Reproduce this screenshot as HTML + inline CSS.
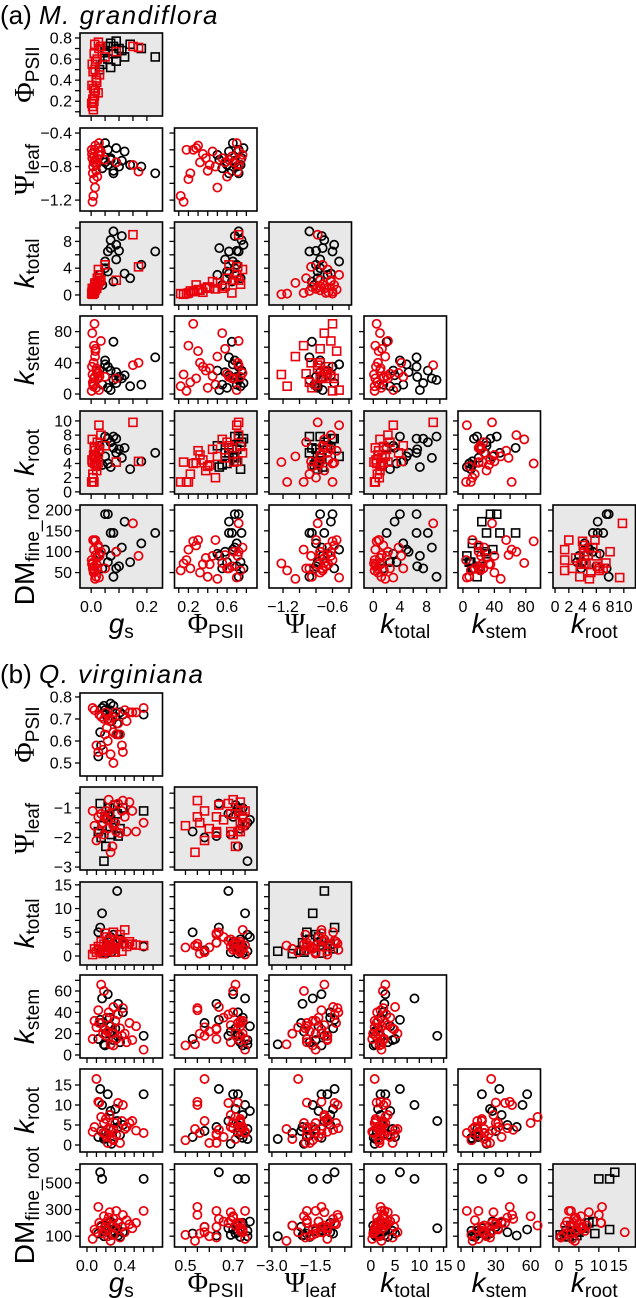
<!DOCTYPE html>
<html><head><meta charset="utf-8"><style>
html,body{margin:0;padding:0;background:#fff;}
svg{display:block;font-family:"Liberation Sans",sans-serif;}
</style></head><body>
<svg id="chart" width="636" height="1298" viewBox="0 0 636 1298" xmlns="http://www.w3.org/2000/svg"></svg>
<script>
// ---------- Data: (a) M. grandiflora ----------
const aBlackGs   = [0.05,0.06,0.07,0.08,0.09,0.10,0.12,0.04,0.06,0.07,0.08,0.14,0.18,0.23,0.05,0.09,0.03,0.11];
const aBlackPhi  = [0.68,0.72,0.75,0.65,0.58,0.70,0.62,0.55,0.60,0.52,0.72,0.74,0.70,0.62,0.66,0.77,0.50,0.68];
const aBlackPsi  = [-0.75,-0.60,-0.70,-0.85,-0.75,-0.80,-0.62,-0.82,-0.78,-0.72,-0.88,-0.78,-0.80,-0.88,-0.52,-0.58,-0.66,-0.73];
const aBlackKtot = [4.0,6.5,8.2,2.0,5.3,6.6,3.2,1.5,3.5,7.0,9.5,2.5,4.5,6.5,5.0,7.5,3.0,8.8];
const aBlackKstem= [43,35,30,67,28,22,24,12,8,5,18,10,12,47,38,14,30,20];
const aBlackKroot= [7.8,7.5,7.0,6.2,5.5,6.0,6.2,3.8,4.0,3.5,7.8,3.2,4.3,5.5,5.0,7.5,6.5,4.8];
const aBlackDm   = [190,190,145,145,100,65,172,60,75,90,40,75,120,145,105,60,95,110];

const aRedGs   = [0.005,0.008,0.010,0.012,0.015,0.003,0.020,0.006,0.018,0.025,0.009,0.030,0.014,0.004,0.022,0.011,0.028,0.016,0.035,0.007,0.013,0.05,0.09,0.15,0.17,0.002,0.019,0.026];
const aRedPhi  = [0.15,0.12,0.20,0.25,0.30,0.35,0.38,0.22,0.40,0.28,0.32,0.45,0.50,0.55,0.60,0.65,0.70,0.58,0.72,0.48,0.74,0.62,0.67,0.72,0.71,0.18,0.42,0.76];
const aRedPsi  = [-1.22,-1.15,-0.95,-0.60,-0.55,-0.65,-0.70,-0.88,-0.85,-0.58,-0.75,-0.62,-1.05,-0.70,-0.92,-0.68,-0.52,-0.75,-0.62,-0.80,-0.72,-0.72,-0.75,-0.78,-0.86,-0.60,-0.78,-0.66];
const aRedKtot = [0.1,0.2,0.3,0.5,0.8,0.4,1.0,0.6,1.2,1.5,0.7,2.0,1.8,1.0,2.5,0.3,3.0,1.3,2.2,0.9,1.6,4.5,2.2,9.0,4.2,0.2,1.1,3.8];
const aRedKstem= [25,10,62,90,55,35,30,15,8,20,40,23,48,78,26,20,5,58,68,12,22,22,20,37,40,4,33,27];
const aRedKroot= [4.2,1.4,1.4,4.0,5.8,4.5,3.0,2.5,3.6,4.1,5.2,6.0,5.0,7.4,7.0,6.2,9.4,4.8,8.0,2.0,6.4,6.5,4.2,9.8,4.3,1.4,3.8,5.5];
const aRedDm   = [72,55,105,125,128,70,85,60,40,115,50,90,35,73,60,65,38,92,100,128,55,60,100,168,90,80,70,110];

// ---------- Data: (b) Q. virginiana ----------
const bBlackGs   = [0.12,0.14,0.16,0.18,0.20,0.22,0.24,0.26,0.28,0.30,0.32,0.35,0.38,0.60,0.15,0.19,0.25,0.33];
const bBlackPhi  = [0.53,0.64,0.75,0.76,0.72,0.70,0.74,0.69,0.76,0.71,0.68,0.73,0.72,0.72,0.58,0.74,0.77,0.63];
const bBlackPsi  = [-1.8,-0.85,-1.6,-2.8,-2.3,-1.3,-1.0,-1.9,-1.5,-0.9,-1.2,-1.7,-1.0,-1.1,-2.0,-1.3,-1.4,-1.95];
const bBlackKtot = [5.0,6.0,9.0,1.0,0.5,3.0,2.0,0.8,4.5,1.5,13.7,3.5,2.5,2.0,1.2,0.6,4.0,2.8];
const bBlackKstem= [15,33,53,10,20,57,35,22,14,25,18,12,40,18,30,9,27,48];
const bBlackKroot= [2.0,14.0,10.0,1.5,3.0,12.7,7.5,0.3,4.0,9.0,6.0,2.5,5.0,12.7,3.5,1.8,8.5,4.5];
const bBlackDm   = [120,580,530,100,180,150,200,110,140,120,160,95,130,530,170,140,210,105];

const bRedGs   = [0.06,0.08,0.10,0.12,0.13,0.15,0.17,0.18,0.20,0.21,0.22,0.24,0.25,0.27,0.28,0.30,0.31,0.33,0.35,0.37,0.38,0.40,0.42,0.45,0.48,0.52,0.60,0.28,0.19,0.23];
const bRedPhi  = [0.75,0.74,0.58,0.55,0.72,0.71,0.56,0.70,0.73,0.66,0.60,0.69,0.54,0.71,0.64,0.73,0.63,0.68,0.63,0.58,0.55,0.74,0.69,0.73,0.73,0.73,0.75,0.50,0.63,0.70];
const bRedPsi  = [-1.1,-1.6,-2.1,-1.3,-1.8,-1.2,-1.5,-1.9,-1.1,-1.4,-1.7,-1.2,-2.5,-2.3,-0.9,-1.5,-1.8,-0.85,-1.85,-1.1,-0.75,-1.3,-1.8,-0.8,-1.1,-1.8,-1.5,-1.6,-1.3,-0.72];
const bRedKtot = [0.3,1.5,0.8,2.0,1.2,3.0,0.5,2.5,1.0,4.0,1.8,3.5,2.2,1.5,5.0,0.8,2.8,3.2,4.5,1.0,2.6,5.5,2.0,3.0,2.5,2.3,2.2,1.8,4.8,1.3];
const bRedKstem= [15,32,26,42,30,66,20,60,18,35,22,28,10,20,45,32,15,38,25,18,44,20,12,30,14,27,5,9,24,40];
const bRedKroot= [3.3,4.5,16.5,10.8,10.6,7.0,3.0,5.5,6.5,2.0,0.5,7.5,4.0,1.5,3.8,5.5,2.5,10.5,0.5,6.0,10.0,4.0,4.5,5.5,6.0,3.6,3.0,1.2,2.8,4.2];
const bRedDm   = [80,150,130,320,200,180,120,250,140,210,100,280,65,180,230,160,290,200,90,170,260,130,220,190,160,200,290,110,170,240];

// ---------- Axis config ----------
const varNames = ['gs','phi','psi','ktot','kstem','kroot','dm'];
const colLeft = [80,174.5,269,364,458,553];
const PW = 82.5, PH = 83;
const aRowTop = [0,33,128,222,316,411,505];
const bRowTop = [0,693,787,882,975,1069,1164];
const aXDom = {gs:[-0.04,0.256],phi:[0.056,0.91],psi:[-1.37,-0.37],ktot:[-1.4,11],kstem:[-6.3,98.7],kroot:[-0.3,11.7]};
const aYDom = {phi:[0.06,0.847],psi:[-1.33,-0.34],ktot:[-1.5,10.9],kstem:[-6.4,100],kroot:[-0.3,11.4],dm:[13,212]};
const bXDom = {gs:[-0.074,0.80],phi:[0.454,0.80],psi:[-3.1,-0.27],ktot:[-1.4,15.6],kstem:[-2.6,68.5],kroot:[-1.5,19.2]};
const bYDom = {phi:[0.441,0.818],psi:[-3.1,-0.29],ktot:[-1.9,15.6],kstem:[-2.8,75],kroot:[-1.75,19],dm:[19,642]};
const aXTicks = {gs:[0,0.05,0.1,0.15,0.2],phi:[0.1,0.2,0.3,0.4,0.5,0.6,0.7,0.8],psi:[-1.2,-1.0,-0.8,-0.6,-0.4],ktot:[0,2,4,6,8,10],kstem:[0,20,40,60,80],kroot:[0,2,4,6,8,10]};
const aXLabels = {gs:['0.0','0.2'],phi:['0.2','0.6'],psi:['−1.2','−0.6'],ktot:['0','4','8'],kstem:['0','40','80'],kroot:['0','2','4','6','8','10']};
const aXLabelVals = {gs:[0,0.2],phi:[0.2,0.6],psi:[-1.2,-0.6],ktot:[0,4,8],kstem:[0,40,80],kroot:[0,2,4,6,8,10]};
const aYTicks = {phi:[0.1,0.2,0.3,0.4,0.5,0.6,0.7,0.8],psi:[-1.2,-1.0,-0.8,-0.6,-0.4],ktot:[0,2,4,6,8,10],kstem:[0,20,40,60,80],kroot:[0,2,4,6,8,10],dm:[50,100,150,200]};
const aYLabelVals = {phi:[0.2,0.4,0.6,0.8],psi:[-1.2,-0.8,-0.4],ktot:[0,4,8],kstem:[0,40,80],kroot:[0,2,4,6,8,10],dm:[50,100,150,200]};
const aYLabels = {phi:['0.2','0.4','0.6','0.8'],psi:['−1.2','−0.8','−0.4'],ktot:['0','4','8'],kstem:['0','40','80'],kroot:['0','2','4','6','8','10'],dm:['50','100','150','200']};
const bXTicks = {gs:[0,0.1,0.2,0.3,0.4,0.5,0.6,0.7],phi:[0.5,0.55,0.6,0.65,0.7,0.75],psi:[-3,-2.5,-2,-1.5,-1,-0.5],ktot:[0,2.5,5,7.5,10,12.5,15],kstem:[0,10,20,30,40,50,60],kroot:[0,5,10,15]};
const bXLabelVals = {gs:[0,0.4],phi:[0.5,0.7],psi:[-3,-1.5],ktot:[0,5,10,15],kstem:[0,30,60],kroot:[0,5,10,15]};
const bXLabels = {gs:['0.0','0.4'],phi:['0.5','0.7'],psi:['−3.0','−1.5'],ktot:['0','5','10','15'],kstem:['0','30','60'],kroot:['0','5','10','15']};
const bYTicks = {phi:[0.5,0.6,0.7,0.8],psi:[-3,-2.5,-2,-1.5,-1,-0.5],ktot:[0,2.5,5,7.5,10,12.5,15],kstem:[0,10,20,30,40,50,60,70],kroot:[0,5,10,15],dm:[100,200,300,400,500,600]};
const bYLabelVals = {phi:[0.5,0.6,0.7,0.8],psi:[-3,-2,-1],ktot:[0,5,10,15],kstem:[0,20,40,60],kroot:[0,5,10,15],dm:[100,300,500]};
const bYLabels = {phi:['0.5','0.6','0.7','0.8'],psi:['−3','−2','−1'],ktot:['0','5','10','15'],kstem:['0','20','40','60'],kroot:['0','5','10','15'],dm:['100','300','500']};
const aGray = ['1,0','3,0','3,1','3,2','5,0','5,1','5,2','5,3','6,0','6,3','6,5'];
const aRedSq = ['1,0','3,0','3,1','4,2','5,0','5,1','5,3','6,5'];
const aBlackSq = ['1,0','5,1','5,2','6,4'];
const bGray = ['2,0','2,1','3,0','3,2','6,5'];
const bRedSq = ['2,1','3,0'];
const bBlackSq = ['2,0','3,2','6,5'];

const NS = 'http://www.w3.org/2000/svg';
const svg = document.getElementById('chart');
function mk(tag, attrs, parent, text){
  const e = document.createElementNS(NS, tag);
  for (const k in attrs) e.setAttribute(k, attrs[k]);
  if (text !== undefined) e.textContent = text;
  (parent||svg).appendChild(e);
  return e;
}
function scale(dom, p0, p1){ return v => p0 + (v-dom[0])/(dom[1]-dom[0])*(p1-p0); }

const axisTitleHTML = {
  gs:  ['g','s',true], phi:['Φ','PSII',false], psi:['Ψ','leaf',false],
  ktot:['k','total',true], kstem:['k','stem',true], kroot:['k','root',true], dm:['DM','fine_root',false]
};
function addTitle(parent, name, x, y, rotate, prefix){
  const [main, sub, ital] = axisTitleHTML[name];
  const t = mk('text', {x:x, y:y, 'text-anchor':'middle', 'font-size':'28', fill:'#000',
    transform: rotate ? `rotate(-90 ${x} ${y})` : ''}, parent);
  
  
  mk('tspan', {'font-style': ital ? 'italic':'normal',
    'font-family': (main==='Φ'||main==='Ψ') ? '"Liberation Serif",serif' : '"Liberation Sans",sans-serif'}, t, main);
  mk('tspan', {'font-size':'19', dy:'5'}, t, sub);
}

function drawSpecies(cfg){
  const g = mk('g', {});
  
  
  const t = mk('text', {x:0, y:cfg.titleY, 'font-size':'26', fill:'#000'}, g);
  
  
  mk('tspan', {}, t, cfg.label + ' ');
  mk('tspan', {'font-style':'italic','letter-spacing':'1.5'}, t, cfg.species);

  for (let r = 1; r <= 6; r++){
    for (let c = 0; c < r; c++){
      const xv = varNames[c], yv = varNames[r];
      const x0 = colLeft[c], y0 = cfg.rowTop[r];
      const key = r + ',' + c;
      const pg = mk('g', {}, g);
      
      
      const rect = mk('rect', {x:x0, y:y0, width:PW, height:PH,
        fill: cfg.gray.includes(key) ? '#e8e8e8' : '#fff', stroke:'#000', 'stroke-width':'1.6'}, pg);
      
      
      const sx = scale(cfg.xDom[xv], x0, x0+PW);
      const sy = scale(cfg.yDom[yv], y0+PH, y0);
      cfg.xTicks[xv].forEach(v => mk('line', {x1:sx(v), x2:sx(v), y1:y0+PH, y2:y0+PH+5, stroke:'#000','stroke-width':'1.3'}, pg));
      cfg.yTicks[yv].forEach(v => mk('line', {x1:x0-5, x2:x0, y1:sy(v), y2:sy(v), stroke:'#000','stroke-width':'1.3'}, pg));
      if (c === 0){
        cfg.yLabelVals[yv].forEach((v,i) => {
          const lt = mk('text', {x:x0-8, y:sy(v)+5.5, 'text-anchor':'end','font-size':'16',fill:'#000'}, pg, cfg.yLabels[yv][i]);
          
          
        });
        addTitle(g, yv, 34, y0+PH/2, true, cfg.prefix);
      }
      if (r === 6){
        cfg.xLabelVals[xv].forEach((v,i) => {
          const lt = mk('text', {x:sx(v), y:y0+PH+24, 'text-anchor':'middle','font-size':'16',fill:'#000'}, pg, cfg.xLabels[xv][i]);
          
          
        });
        addTitle(g, xv, x0+PW/2, y0+PH+45, false, cfg.prefix);
      }
      const groups = [
        {d:cfg.black, color:'#000', sq:cfg.blackSq.includes(key), name:'black'},
        {d:cfg.red, color:'#e8000b', sq:cfg.redSq.includes(key), name:'red'}
      ];
      groups.forEach(gr => {
        const xs = gr.d[c], ys = gr.d[r];
        for (let i = 0; i < xs.length; i++){
          const px = sx(xs[i]), py = sy(ys[i]);
          let m;
          if (gr.sq) m = mk('rect', {x:px-4, y:py-4, width:8, height:8, fill:'none', stroke:gr.color,'stroke-width':'1.6'}, pg);
          else m = mk('circle', {cx:px, cy:py, r:4.1, fill:'none', stroke:gr.color,'stroke-width':'1.7'}, pg);
          
          
        }
      });
    }
  }
}

drawSpecies({prefix:'a', label:'(a)', species:'M. grandiflora', titleY:24, rowTop:aRowTop,
  xDom:aXDom, yDom:aYDom, xTicks:aXTicks, yTicks:aYTicks, xLabelVals:aXLabelVals, xLabels:aXLabels,
  yLabelVals:aYLabelVals, yLabels:aYLabels, gray:aGray, redSq:aRedSq, blackSq:aBlackSq,
  black:[aBlackGs,aBlackPhi,aBlackPsi,aBlackKtot,aBlackKstem,aBlackKroot,aBlackDm],
  red:[aRedGs,aRedPhi,aRedPsi,aRedKtot,aRedKstem,aRedKroot,aRedDm]});
drawSpecies({prefix:'b', label:'(b)', species:'Q. virginiana', titleY:683, rowTop:bRowTop,
  xDom:bXDom, yDom:bYDom, xTicks:bXTicks, yTicks:bYTicks, xLabelVals:bXLabelVals, xLabels:bXLabels,
  yLabelVals:bYLabelVals, yLabels:bYLabels, gray:bGray, redSq:bRedSq, blackSq:bBlackSq,
  black:[bBlackGs,bBlackPhi,bBlackPsi,bBlackKtot,bBlackKstem,bBlackKroot,bBlackDm],
  red:[bRedGs,bRedPhi,bRedPsi,bRedKtot,bRedKstem,bRedKroot,bRedDm]});
</script>
</body></html>
